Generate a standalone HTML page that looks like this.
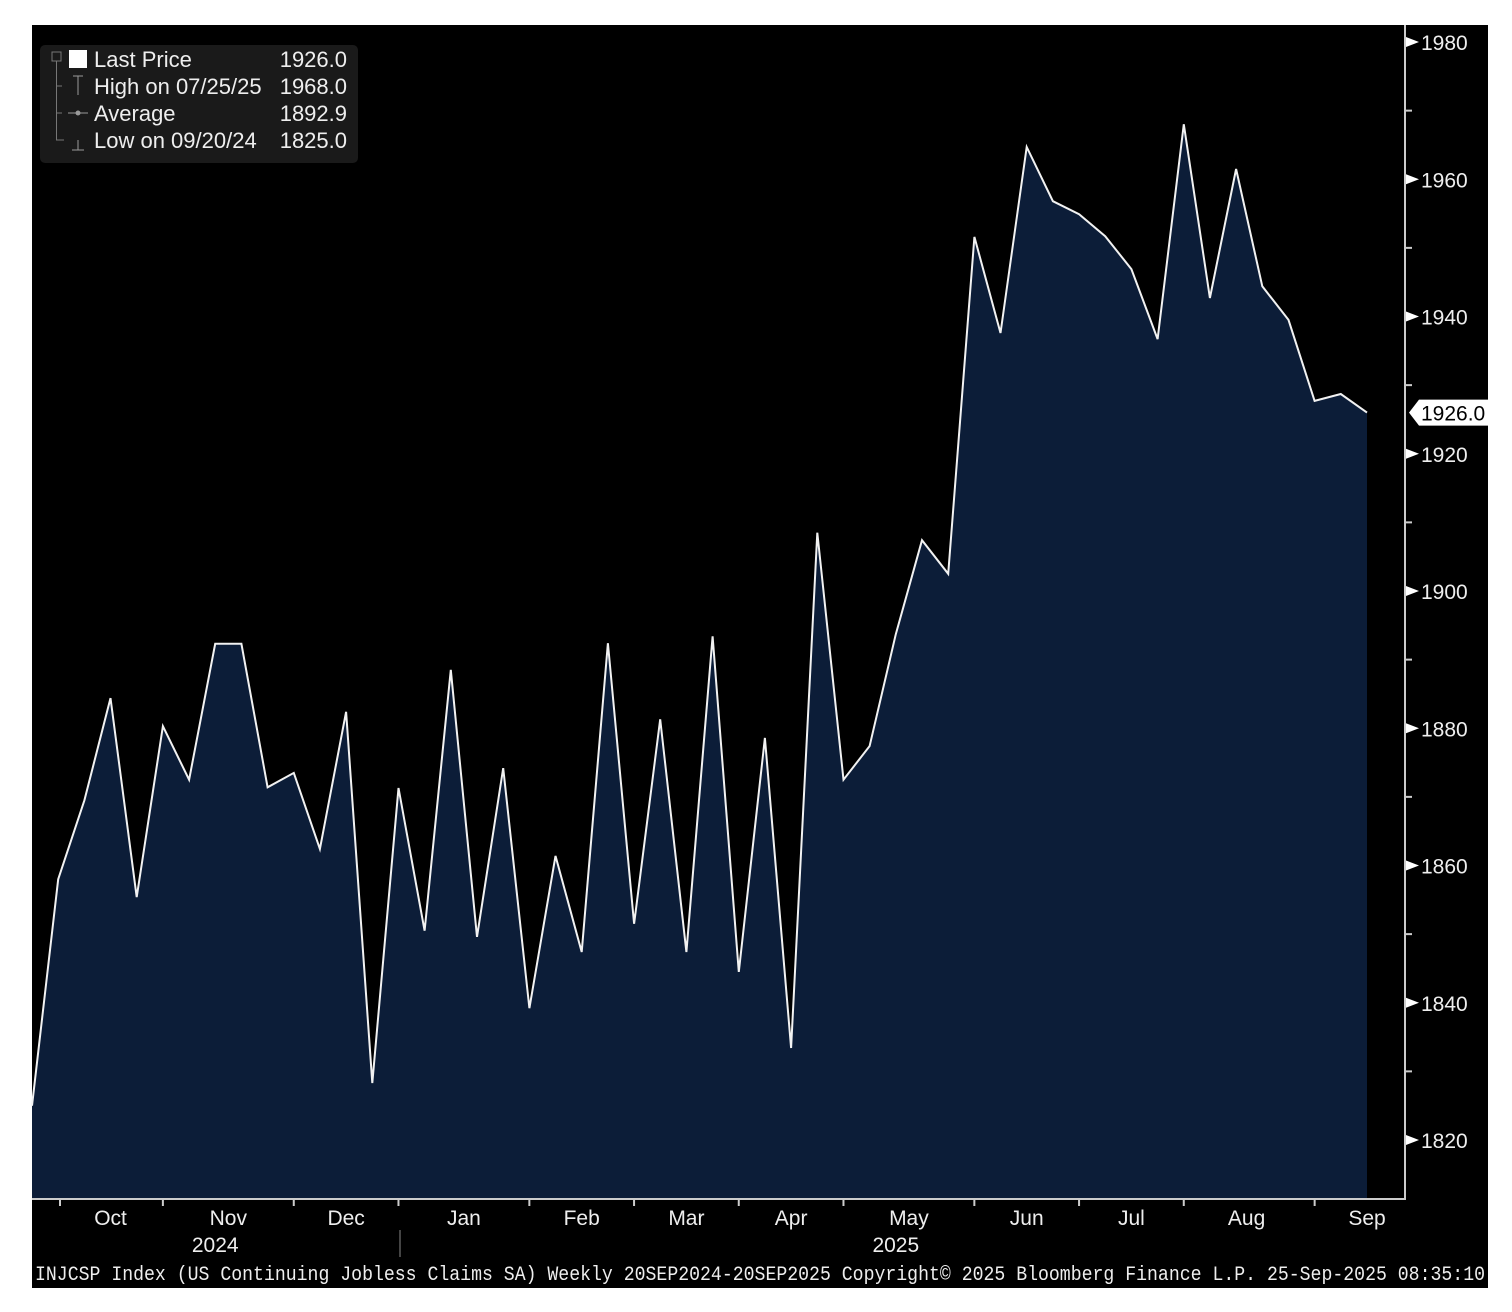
<!DOCTYPE html>
<html><head><meta charset="utf-8"><style>
html,body{margin:0;padding:0;background:#fff;}
svg{display:block;font-family:"Liberation Sans",sans-serif;}
</style></head><body>
<svg id="chart" width="1512" height="1312" viewBox="0 0 1512 1312">
<rect x="32" y="25" width="1456" height="1263" fill="#000"/>
<g id="plot"></g>
<g id="axes"></g>
<g>
<rect x="40" y="45" width="318" height="118" rx="5" fill="#1a1a1a"/>
<rect x="69" y="50" width="18" height="18" fill="#fff"/>
<rect x="52" y="52" width="9" height="9" fill="none" stroke="#777"/>
<path d="M56.5 61V140H64M56.5 86H62M56.5 113H62" stroke="#777" fill="none"/>
<path d="M73 76H83M78 76V95M68 113H88M78 140V150M72 150H84" stroke="#999" fill="none"/>
<circle cx="78" cy="113" r="2.5" fill="#999"/>
<g fill="#eee" font-size="22">
<text x="94" y="67">Last Price</text>
<text x="94" y="94">High on 07/25/25</text>
<text x="94" y="121">Average</text>
<text x="94" y="148">Low on 09/20/24</text>
<g text-anchor="end">
<text x="347" y="67">1926.0</text>
<text x="347" y="94">1968.0</text>
<text x="347" y="121">1892.9</text>
<text x="347" y="148">1825.0</text>
</g></g></g>
<text x="35" y="1280" fill="#eee" font-family="Liberation Mono,monospace" font-size="20" textLength="1450" lengthAdjust="spacingAndGlyphs">INJCSP Index (US Continuing Jobless Claims SA)  Weekly 20SEP2024-20SEP2025  Copyright© 2025 Bloomberg Finance L.P. 25-Sep-2025 08:35:10</text>
</svg>
<script>
const values=[1825,1858,1869.5,1884.4,1855.4,1880.3,1872.5,1892.3,1892.3,1871.4,1873.5,1862.4,1882.4,1828.3,1871.3,1850.5,1888.5,1849.6,1874.2,1839.2,1861.4,1847.4,1892.4,1851.5,1881.3,1847.4,1893.4,1844.5,1878.6,1833.4,1908.5,1872.5,1877.4,1893.7,1907.4,1902.5,1951.6,1937.6,1964.7,1956.8,1954.9,1951.7,1946.9,1936.7,1968,1942.7,1961.5,1944.4,1939.5,1927.7,1928.7,1926];
const yTicks=[1820,1840,1860,1880,1900,1920,1940,1960,1980];
const monthLabels=["Oct","Nov","Dec","Jan","Feb","Mar","Apr","May","Jun","Jul","Aug","Sep"];
const monthLabelIdx=[3,7.5,12,16.5,21,25,29,33.5,38,42,46.4,51];
const monthTickIdx=[1.07,5,10,14,19,23,27,31,36,40,44,49];
const yearLabels=["2024","2025"];
const yearLabelIdx=[7,33];
const lastValue=1926.0;
const NS="http://www.w3.org/2000/svg";
const X0=32,X1=1367,Ytop=42,Ybot=1140,V0=1980,V1=1820,AX=1405,AY=1199;
const xs=i=>X0+(X1-X0)*i/(values.length-1);
const ys=v=>Ytop+(V0-v)*(Ybot-Ytop)/(V0-V1);
function mk(tag,attrs,parent){const e=document.createElementNS(NS,tag);for(const k in attrs)e.setAttribute(k,attrs[k]);parent.appendChild(e);return e;}
const plot=document.getElementById('plot'),axes=document.getElementById('axes');
let pts=values.map((v,i)=>xs(i).toFixed(1)+','+ys(v).toFixed(1));
const area=mk('polygon',{points:X0+','+AY+' '+pts.join(' ')+' '+X1+','+AY,fill:'#0c1d38'},plot);


const line=mk('polyline',{points:pts.join(' '),fill:'none',stroke:'#f2f2f2','stroke-width':2,'stroke-linejoin':'miter'},plot);


mk('path',{d:`M${X0} ${AY}H${AX}V25`,stroke:'#ccc','stroke-width':2,fill:'none'},axes);
yTicks.forEach((t,i)=>{const y=ys(t);
 mk('polygon',{points:`${AX+1},${y-5} ${AX+14},${y} ${AX+1},${y+5}`,fill:'#fff'},axes);
 const tx=mk('text',{x:AX+16,y:y+8,fill:'#eee','font-size':21},axes);tx.textContent=t;
 
 
 if(i<yTicks.length-1){const ym=ys(t+10);mk('line',{x1:AX,x2:AX+7,y1:ym,y2:ym,stroke:'#ccc','stroke-width':2},axes);}
});
const ly=ys(lastValue);
const tag=mk('polygon',{points:`${AX+4},${ly} ${AX+14},${ly-13} 1490,${ly-13} 1490,${ly+13} ${AX+14},${ly+13}`,fill:'#fff'},axes);


const tt=mk('text',{x:AX+16,y:ly+8,fill:'#000','font-size':21},axes);tt.textContent=lastValue.toFixed(1);


monthTickIdx.forEach(i=>{const x=xs(i);mk('line',{x1:x,x2:x,y1:AY,y2:AY+7,stroke:'#ccc','stroke-width':2},axes);});
monthLabels.forEach((m,k)=>{const t=mk('text',{x:xs(monthLabelIdx[k]),y:1225,fill:'#eee','font-size':21,'text-anchor':'middle'},axes);t.textContent=m;
 
 });
yearLabels.forEach((m,k)=>{const t=mk('text',{x:xs(yearLabelIdx[k]),y:1252,fill:'#eee','font-size':21,'text-anchor':'middle'},axes);t.textContent=m;
 
 });
mk('line',{x1:400,x2:400,y1:1230,y2:1257,stroke:'#888','stroke-width':1},axes);
</script>
</body></html>
